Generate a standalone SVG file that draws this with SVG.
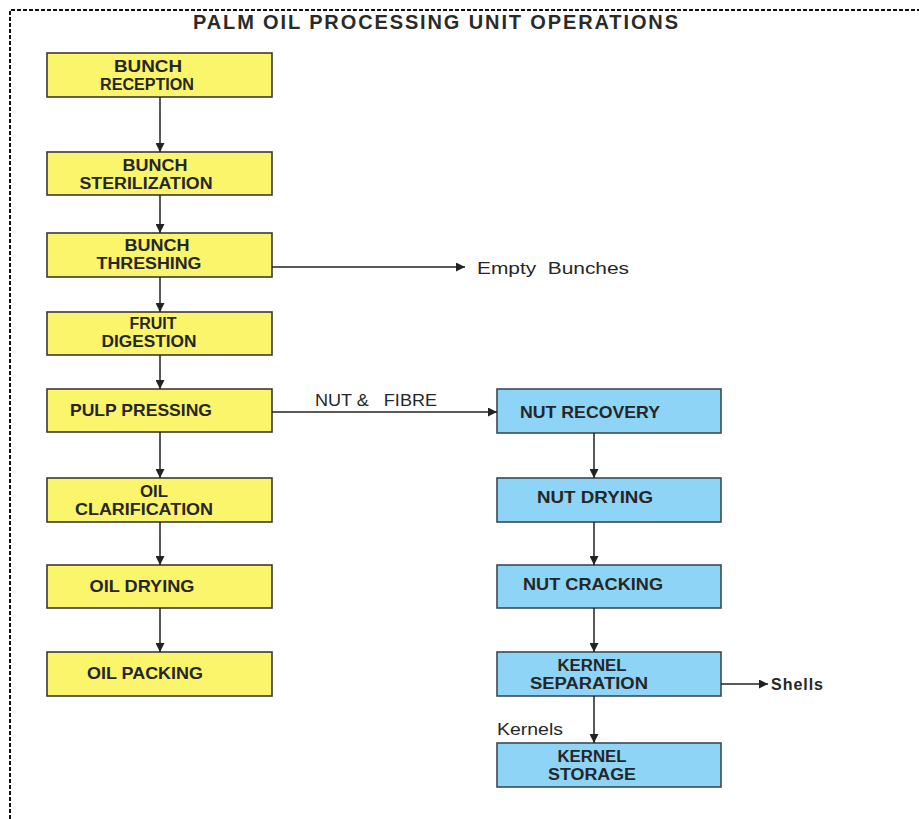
<svg xmlns="http://www.w3.org/2000/svg" width="919" height="819" viewBox="0 0 919 819">
<style>
.y{fill:#FAF56B;stroke:#3a3a3a;stroke-width:1.6}
.b{fill:#8DD4F6;stroke:#3a4a55;stroke-width:1.6}
.t{font-family:"Liberation Sans",Arial,sans-serif;font-weight:bold;font-size:16px;fill:#262626;text-anchor:middle}
.s{font-size:16.5px}
.l{font-family:"Liberation Sans",Arial,sans-serif;font-size:16px;fill:#262626;white-space:pre}
.c line{stroke:#222;stroke-width:1.5}
</style>
<defs>
<marker id="a" viewBox="0 0 10 10" refX="10" refY="5" markerWidth="9" markerHeight="9" markerUnits="userSpaceOnUse" orient="auto">
<path d="M0,0 L10,5 L0,10 z" fill="#222"/>
</marker>
</defs>
<rect width="919" height="819" fill="#fff"/>
<path d="M10,819 V10 H919" fill="none" stroke="#111" stroke-width="2" stroke-dasharray="4,2"/>
<text x="193" y="29" font-family="Liberation Sans,Arial,sans-serif" font-weight="bold" font-size="20" fill="#2a2a2a" textLength="485">PALM OIL PROCESSING UNIT OPERATIONS</text>

<g id="bunch-reception"><rect class="y" x="47" y="53" width="225" height="44"/><text class="t" x="148" y="72" textLength="68" lengthAdjust="spacingAndGlyphs">BUNCH</text><text class="t" x="147" y="90" textLength="94" lengthAdjust="spacingAndGlyphs">RECEPTION</text></g>
<g id="bunch-sterilization"><rect class="y" x="47" y="152" width="225" height="43"/><text class="t" x="155" y="171" textLength="65" lengthAdjust="spacingAndGlyphs">BUNCH</text><text class="t" x="146" y="189" textLength="133" lengthAdjust="spacingAndGlyphs">STERILIZATION</text></g>
<g id="bunch-threshing"><rect class="y" x="47" y="233" width="225" height="44"/><text class="t" x="157" y="251" textLength="65" lengthAdjust="spacingAndGlyphs">BUNCH</text><text class="t" x="149" y="269" textLength="105" lengthAdjust="spacingAndGlyphs">THRESHING</text></g>
<g id="fruit-digestion"><rect class="y" x="47" y="312" width="225" height="43"/><text class="t" x="153" y="329" textLength="47" lengthAdjust="spacingAndGlyphs">FRUIT</text><text class="t" x="149" y="347" textLength="95" lengthAdjust="spacingAndGlyphs">DIGESTION</text></g>
<g id="pulp-pressing"><rect class="y" x="47" y="389" width="225" height="43"/><text class="t s" x="141" y="416" textLength="142" lengthAdjust="spacingAndGlyphs">PULP PRESSING</text></g>
<g id="oil-clarification"><rect class="y" x="47" y="478" width="225" height="44"/><text class="t" x="154" y="497" textLength="28" lengthAdjust="spacingAndGlyphs">OIL</text><text class="t" x="144" y="515" textLength="138" lengthAdjust="spacingAndGlyphs">CLARIFICATION</text></g>
<g id="oil-drying"><rect class="y" x="47" y="565" width="225" height="43"/><text class="t s" x="142" y="592" textLength="105" lengthAdjust="spacingAndGlyphs">OIL DRYING</text></g>
<g id="oil-packing"><rect class="y" x="47" y="652" width="225" height="44"/><text class="t s" x="145" y="679" textLength="116" lengthAdjust="spacingAndGlyphs">OIL PACKING</text></g>

<g id="nut-recovery"><rect class="b" x="497" y="389" width="224" height="44"/><text class="t s" x="590" y="418" textLength="140" lengthAdjust="spacingAndGlyphs">NUT RECOVERY</text></g>
<g id="nut-drying"><rect class="b" x="497" y="478" width="224" height="44"/><text class="t s" x="595" y="503" textLength="116" lengthAdjust="spacingAndGlyphs">NUT DRYING</text></g>
<g id="nut-cracking"><rect class="b" x="497" y="565" width="224" height="43"/><text class="t s" x="593" y="590" textLength="140" lengthAdjust="spacingAndGlyphs">NUT CRACKING</text></g>
<g id="kernel-separation"><rect class="b" x="497" y="652" width="224" height="44"/><text class="t" x="592" y="671" textLength="69" lengthAdjust="spacingAndGlyphs">KERNEL</text><text class="t" x="589" y="689" textLength="118" lengthAdjust="spacingAndGlyphs">SEPARATION</text></g>
<g id="kernel-storage"><rect class="b" x="497" y="743" width="224" height="44"/><text class="t" x="592" y="762" textLength="69" lengthAdjust="spacingAndGlyphs">KERNEL</text><text class="t" x="592" y="780" textLength="88" lengthAdjust="spacingAndGlyphs">STORAGE</text></g>

<g class="c">
<line x1="160" y1="97" x2="160" y2="152" marker-end="url(#a)"/>
<line x1="160" y1="195" x2="160" y2="233" marker-end="url(#a)"/>
<line x1="160" y1="277" x2="160" y2="312" marker-end="url(#a)"/>
<line x1="160" y1="355" x2="160" y2="389" marker-end="url(#a)"/>
<line x1="160" y1="432" x2="160" y2="478" marker-end="url(#a)"/>
<line x1="160" y1="522" x2="160" y2="565" marker-end="url(#a)"/>
<line x1="160" y1="608" x2="160" y2="652" marker-end="url(#a)"/>
<line x1="272" y1="267" x2="465" y2="267" marker-end="url(#a)"/>
<line x1="272" y1="412" x2="497" y2="412" marker-end="url(#a)"/>
<line x1="594" y1="433" x2="594" y2="478" marker-end="url(#a)"/>
<line x1="594" y1="522" x2="594" y2="565" marker-end="url(#a)"/>
<line x1="594" y1="608" x2="594" y2="652" marker-end="url(#a)"/>
<line x1="594" y1="696" x2="594" y2="743" marker-end="url(#a)"/>
<line x1="721" y1="684" x2="768" y2="684" marker-end="url(#a)"/>
</g>
<text class="l" x="477" y="274" textLength="152" lengthAdjust="spacingAndGlyphs" xml:space="preserve">Empty  Bunches</text>
<text class="l" x="315" y="406" textLength="122" lengthAdjust="spacingAndGlyphs" xml:space="preserve">NUT &amp;   FIBRE</text>
<text class="l" x="771" y="690" textLength="52" font-weight="bold">Shells</text>
<text class="l" x="497" y="735" textLength="66" lengthAdjust="spacingAndGlyphs">Kernels</text>
</svg>
